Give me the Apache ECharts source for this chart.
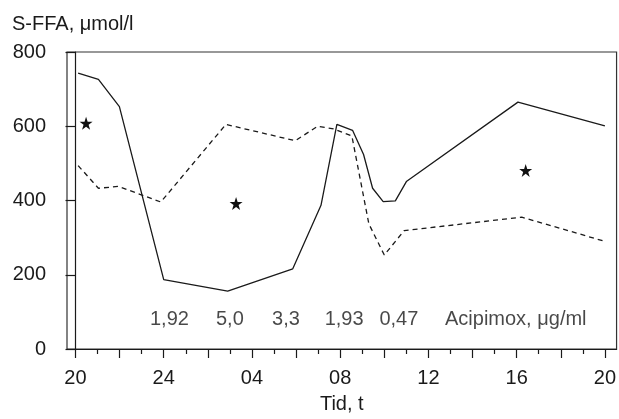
<!DOCTYPE html>
<html>
<head>
<meta charset="utf-8">
<script src="https://cdn.jsdelivr.net/npm/echarts@6/dist/echarts.min.js"></script>
<style>
  html, body { margin: 0; padding: 0; background: #fff; }
  #chart { width: 619px; height: 419px; }
</style>
</head>
<body>
<div id="chart"></div>
<script>
// hours after 20:00
const solidHours = [0.12, 1.04, 1.99, 4.0, 6.9, 9.85, 11.13, 11.85, 12.56, 13.06, 13.47, 13.95, 14.5, 15.0, 20.06, 24.0];
const solidValues = [743, 726, 653, 187, 156, 216, 387, 605, 589, 524, 433, 397, 399, 451, 665, 601];

const dashedHours = [0.12, 1.04, 1.95, 3.87, 6.82, 9.96, 10.98, 11.7, 12.53, 13.3, 14.0, 14.9, 20.23, 24.0];
const dashedValues = [494, 433, 438, 396, 605, 561, 600, 593, 574, 337, 253, 319, 355, 290];

const starHours = [0.48, 7.28, 20.41];
const starValues = [608, 392, 481];

const noteHours = [4.26, 7.0, 9.54, 12.18, 14.66, 19.96];
const noteTexts = ['1,92', '5,0', '3,3', '1,93', '0,47', 'Acipimox, \u03bcg/ml'];
const noteLevel = 80;

const xTickLabels = ['20', '24', '04', '08', '12', '16', '20'];
const xLabelHours = [0, 4, 8, 12, 16, 20, 24];
const xMajorTicks = [0, 2, 4, 6, 8, 10, 12, 14, 16, 18, 20, 22, 24];
const xMinorTicks = [1, 3, 5, 7, 9, 11, 13, 15, 17, 19, 21, 23];

const ink = '#1a1a1a';
const font = 'Liberation Sans, Arial, sans-serif';
const starPath = 'path://M50,0 L61.8,35.4 L99,35.4 L69,57.3 L80.3,92.7 L50,70.8 L19.7,92.7 L31,57.3 L1,35.4 L38.2,35.4 Z';

const pairs = (xs, ys) => xs.map((x, i) => [x, ys[i]]);

const chart = echarts.init(document.getElementById('chart'), null, { renderer: 'canvas' });
chart.setOption({
  animation: false,
  title: {
    text: 'S-FFA, \u03bcmol/l',
    left: 12,
    top: 14,
    padding: 0,
    textStyle: { fontFamily: font, fontSize: 20, fontWeight: 'normal', color: ink }
  },
  grid: {
    left: 67, right: 1, top: 52, bottom: 65,
    show: true, borderColor: '#333', borderWidth: 1.2
  },
  xAxis: [{
    type: 'value',
    min: -0.385,
    max: 24.53,
    name: 'Tid, t',
    nameLocation: 'middle',
    nameGap: 45,
    nameTextStyle: { fontFamily: font, fontSize: 20, color: ink },
    axisLine: { lineStyle: { color: ink, width: 1.2 } },
    axisTick: { customValues: xMajorTicks, length: 9, lineStyle: { color: ink, width: 1.2 } },
    axisLabel: {
      customValues: xLabelHours,
      margin: 19,
      fontFamily: font, fontSize: 20, color: ink,
      formatter: v => xTickLabels[Math.round(v / 4)]
    },
    splitLine: { show: false }
  }, {
    type: 'value',
    position: 'bottom',
    min: -0.385,
    max: 24.53,
    axisLine: { show: false },
    axisTick: { customValues: xMinorTicks, length: 5, lineStyle: { color: ink, width: 1.2 } },
    axisLabel: { show: false },
    splitLine: { show: false }
  }],
  yAxis: {
    type: 'value',
    min: 0,
    max: 800,
    interval: 200,
    axisLine: { show: true, lineStyle: { color: ink, width: 1.2 } },
    axisTick: { show: true, length: 10, lineStyle: { color: ink, width: 1.2 } },
    axisLabel: { margin: 21, fontFamily: font, fontSize: 20, color: ink },
    splitLine: { show: false }
  },
  series: [{
    type: 'line',
    data: pairs(solidHours, solidValues),
    symbol: 'none',
    lineStyle: { color: ink, width: 1.3 }
  }, {
    type: 'line',
    data: pairs(dashedHours, dashedValues),
    symbol: 'none',
    lineStyle: { color: ink, width: 1.3, type: [5, 4] }
  }, {
    type: 'scatter',
    data: pairs(starHours, starValues),
    symbol: starPath,
    symbolSize: 13,
    itemStyle: { color: '#111', opacity: 1 }
  }, {
    type: 'scatter',
    data: noteHours.map((h, i) => ({ value: [h, noteLevel], label: { formatter: noteTexts[i] } })),
    symbolSize: 0,
    label: {
      show: true,
      position: 'inside',
      fontFamily: font, fontSize: 20, color: ink
    }
  }]
});
</script>
</body>
</html>
